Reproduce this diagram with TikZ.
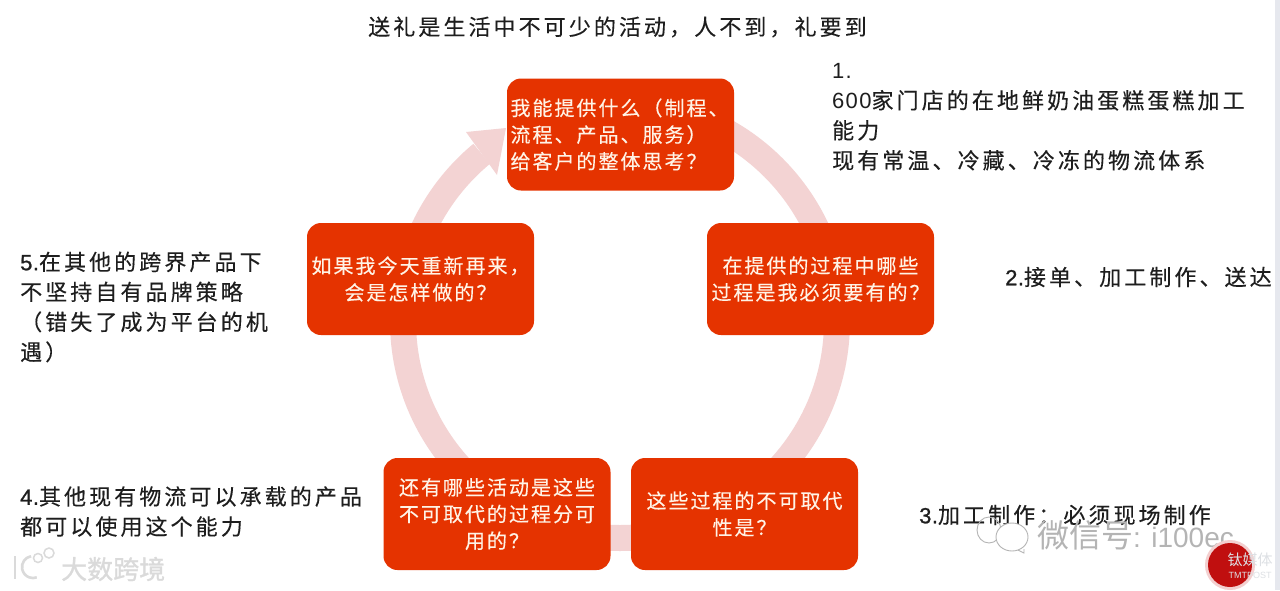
\documentclass[tikz,border=0pt]{standalone}
\usepackage{fontspec}
\setmainfont{Noto Sans CJK SC}
\newfontfamily\outfont[LetterSpace=14,FakeBold=0.25]{Noto Sans CJK SC}
\newfontfamily\boxfont[LetterSpace=10,FakeBold=0.25]{Noto Sans CJK SC}
\newfontfamily\latfont[LetterSpace=6]{Liberation Sans}
\newfontfamily\latbold[LetterSpace=2,FakeBold=1]{Liberation Sans}
\newfontfamily\markfont{Noto Sans CJK SC}
\newfontfamily\markbold[FakeBold=1]{Noto Sans CJK SC}
\newfontfamily\marklat{Liberation Sans}
\newcommand{\lat}[1]{{\latfont #1}}
\newcommand{\latb}[1]{{\latbold #1}}
\definecolor{boxred}{HTML}{E53300}
\definecolor{ringpink}{HTML}{F3D3D3}
\definecolor{boxtext}{HTML}{FFF3E6}
\definecolor{inktext}{HTML}{1E1E1E}
\definecolor{markgray}{HTML}{DADADA}
\definecolor{markdark}{HTML}{B4B4B4}
\definecolor{sealtext}{HTML}{DDE0E4}
\definecolor{strip}{HTML}{E6E8EE}
\definecolor{sealred}{HTML}{C00F0F}
\tikzset{
  x=1pt,y=-1pt,
  stepbox/.style={draw=none,fill=boxred,rounded corners=14pt,minimum width=227pt,minimum height=112pt,inner sep=0pt,
    text=boxtext,font=\fontsize{20}{26.7}\selectfont\boxfont,align=center},
  sidetext/.style={anchor=west,inner sep=0pt,text=inktext,font=\fontsize{22}{30}\selectfont\outfont,align=left},
  markline/.style={draw=markgray,line width=2.6pt},
  wechatline/.style={draw=markdark,line width=0.9pt},
}
\begin{document}
\begin{tikzpicture}
\useasboundingbox (0,0) rectangle (1280,590);
\fill[white] (0,0) rectangle (1280,590);
\fill[strip] (1275,0) rectangle (1280,590);
% ring with arrowhead
\draw[ringpink,line width=26pt] (620,104) arc[start angle=-90,end angle=230.4,radius=217];
\fill[ringpink] (466,132) -- (506,128) -- (497,175) -- cycle;
% boxes
\node[stepbox,align=left] (s1) at (620.5,134.5) {\hspace*{-2pt}我能提供什么（制程、\\\hspace*{-2pt}流程、产品、服务）\\\hspace*{-2pt}给客户的整体思考？};
\node[stepbox] (s2) at (820.5,279) {在提供的过程中哪些\\过程是我必须要有的？};
\node[stepbox] (s3) at (744.5,514) {这些过程的不可取代\\性是？};
\node[stepbox] (s4) at (497,514) {还有哪些活动是这些\\不可取代的过程分可\\用的？};
\node[stepbox] (s5) at (420.5,279) {如果我今天重新再来，\\会是怎样做的？};
% outer texts
\node[sidetext] (title) at (368,27) {送礼是生活中不可少的活动，人不到，礼要到};
\node[sidetext] (t1) at (832,117) {\lat{1.}\\\lat{600}家门店的在地鲜奶油蛋糕蛋糕加工\\能力\\现有常温、冷藏、冷冻的物流体系};
\node[sidetext] (t2) at (1005,277) {\latb{2.}接单、加工制作、送达};
\node[sidetext] (t3) at (919,515) {\latb{3.}加工制作：必须现场制作};
\node[sidetext] (t4) at (20,511.5) {\latb{4.}其他现有物流可以承载的产品\\都可以使用这个能力};
\node[sidetext] (t5) at (20,307) {\latb{5.}在其他的跨界产品下\\不坚持自有品牌策略\\（错失了成为平台的机\\遇）};
% watermarks
\node[anchor=west,inner sep=0pt,text=markgray,font=\fontsize{26}{26}\selectfont\markbold] (wm1) at (61,569) {大数跨境};
\draw[markline] (15,556) -- (15,579);
\draw[markline] (31.1,556.2) arc[start angle=260,end angle=70,radius=11];
\draw[markline,line width=1.5pt] (38,558) circle[radius=4.5];
\draw[markline,line width=1.5pt] (49,553) circle[radius=5];
\draw[wechatline] (989,530) ellipse[x radius=12,y radius=13];
\draw[wechatline,fill=white] (1012,537) ellipse[x radius=16,y radius=14];
\draw[wechatline] (1018,550) -- (1024,553) -- (1024,549);
\node[anchor=west,inner sep=0pt,text=markdark,font=\fontsize{32}{32}\selectfont\markfont] (wm2) at (1037,535) {微信号{\fontsize{28}{28}\selectfont\marklat: i100ec}};
\fill[white!80!sealred] (1230,565) circle[radius=25];
\fill[sealred] (1230,565) circle[radius=22];
\node[inner sep=0pt,text=sealtext,font=\fontsize{15}{15}\selectfont\markfont] (wm3) at (1250,560) {钛媒体};
\node[inner sep=0pt,text=sealtext,font=\fontsize{9}{9}\selectfont\marklat] (wm4) at (1250,575) {TMTPOST};
\end{tikzpicture}
\end{document}
